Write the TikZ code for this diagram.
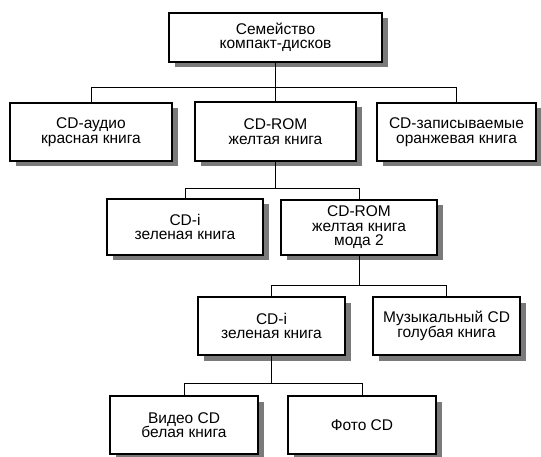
\documentclass[tikz,border=0pt]{standalone}
\usepackage{fontspec}
\setmainfont{Liberation Sans}
\usetikzlibrary{shadows}
\newcommand{\boxfont}{\fontsize{15.5}{14.5}\selectfont}
\tikzset{
  box/.style={draw, line width=1.6pt, fill=white, align=center, inner sep=0pt,
    font=\boxfont,
    drop shadow={fill=black!52, opacity=1, shadow xshift=5.5pt, shadow yshift=-5.5pt}},
  link/.style={line width=0.9pt}
}
\begin{document}
\begin{tikzpicture}[x=1pt,y=-1pt]
\useasboundingbox (0,0) rectangle (541,457);
% row 0
\node[box, minimum width=213pt, minimum height=49pt] (top) at (275.5,37.5) {Семейство\\компакт-дисков};
% row 1
\node[box, minimum width=162pt, minimum height=58pt] (b1) at (91,132) {CD-аудио\\красная книга};
\node[box, minimum width=161pt, minimum height=59pt] (b2) at (275.5,131.5) {CD-ROM\\желтая книга};
\node[box, minimum width=159pt, minimum height=58pt] (b3) at (456.5,132) {CD-записываемые\\оранжевая книга};
% row 2
\node[box, minimum width=156pt, minimum height=56pt] (c1) at (185,227) {CD-i\\зеленая книга};
\node[box, minimum width=156pt, minimum height=55pt] (c2) at (359,227.5) {CD-ROM\\желтая книга\\мода 2};
% row 3
\node[box, minimum width=147pt, minimum height=58pt] (d1) at (271.5,326) {CD-i\\зеленая книга};
\node[box, minimum width=147pt, minimum height=58pt] (d2) at (446.5,326) {Музыкальный CD\\голубая книга};
% row 4
\node[box, minimum width=148pt, minimum height=58pt] (e1) at (184,425) {Видео CD\\белая книга};
\node[box, minimum width=148pt, minimum height=58pt] (e2) at (362,425) {Фото CD};
% bus levels
\coordinate (bus1) at (0,87);
\coordinate (bus2) at (0,188);
\coordinate (bus3) at (0,285);
\coordinate (bus4) at (0,383.5);
% connectors
\draw[link] (top.south) -- (top.south |- bus1) -| (b1.north);
\draw[link] (top.south |- bus1) -- (b2.north);
\draw[link] (top.south |- bus1) -| (b3.north);
\draw[link] (b2.south) -- (b2.south |- bus2) -| (c1.north);
\draw[link] (b2.south |- bus2) -| (c2.north);
\draw[link] (c2.south) -- (c2.south |- bus3) -| (d1.north);
\draw[link] (c2.south |- bus3) -| (d2.north);
\draw[link] (d1.south) -- (d1.south |- bus4) -| (e1.north);
\draw[link] (d1.south |- bus4) -| (e2.north);
\end{tikzpicture}
\end{document}
